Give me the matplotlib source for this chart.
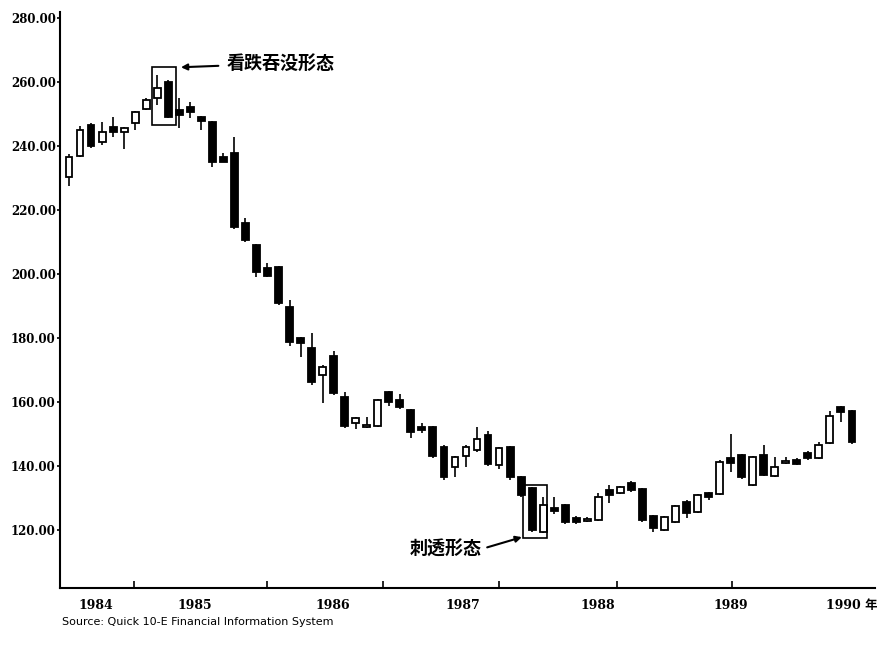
import numpy as np
import matplotlib
matplotlib.use("Agg")
import matplotlib.pyplot as plt
from matplotlib.patches import Rectangle

# Monthly candles, 1984 - 1990
opens = [230.3, 236.9, 246.6, 241.3, 246.0, 244.5, 247.2, 251.6, 255.0, 260.0,
         251.3, 252.2, 249.1, 247.5, 236.6, 237.8, 216.0, 209.1, 201.8, 202.2,
         189.7, 180.0, 176.9, 168.4, 174.4, 161.6, 153.4, 152.3, 152.5, 163.1,
         160.6, 157.5, 152.2, 152.2, 145.9, 139.7, 143.1, 145.0, 149.7, 140.3,
         145.9, 136.6, 133.1, 119.4, 126.9, 127.8, 123.8, 123.0, 123.1, 132.5,
         131.6, 134.7, 132.8, 124.4, 120.0, 122.5, 128.8, 125.6, 131.6, 131.3,
         142.5, 143.4, 134.1, 143.4, 136.9, 141.0, 141.9, 144.0, 142.5, 147.2,
         158.4, 157.2]
highs = [237.5, 246.3, 247.2, 247.5, 249.1, 246.0, 251.0, 255.0, 262.2, 260.6,
         255.0, 253.8, 249.5, 247.8, 237.8, 242.8, 217.5, 209.5, 203.4, 202.5,
         191.9, 180.5, 181.6, 171.5, 175.9, 163.1, 155.5, 155.3, 161.0, 163.4,
         162.5, 158.0, 153.4, 152.6, 146.5, 143.3, 146.5, 152.2, 150.9, 145.9,
         146.3, 137.0, 133.4, 130.3, 130.3, 128.2, 124.5, 124.2, 131.6, 134.0,
         133.8, 135.5, 133.2, 124.8, 124.5, 128.0, 129.3, 131.3, 132.0, 142.0,
         150.0, 143.8, 143.3, 146.6, 143.0, 142.9, 142.4, 144.6, 147.5, 157.2,
         158.9, 157.6]
lows = [227.5, 236.5, 239.5, 240.3, 242.8, 239.1, 245.0, 251.2, 252.8, 248.8,
        245.6, 248.8, 245.0, 233.4, 235.0, 214.0, 210.0, 199.1, 199.0, 190.3,
        177.5, 174.1, 165.3, 159.7, 162.3, 152.0, 151.6, 152.0, 152.2, 158.8,
        157.8, 148.8, 150.3, 142.5, 135.6, 136.6, 139.7, 144.5, 140.0, 139.1,
        135.8, 130.5, 119.5, 119.0, 125.0, 122.0, 121.8, 122.6, 122.8, 128.4,
        131.2, 132.0, 122.5, 119.4, 119.6, 122.2, 123.8, 125.2, 129.4, 131.0,
        138.1, 136.0, 133.8, 136.8, 136.5, 140.6, 140.2, 141.8, 142.2, 146.8,
        153.8, 146.9]
closes = [236.6, 245.0, 240.0, 244.4, 244.4, 245.8, 250.6, 254.4, 258.1, 249.1,
          249.7, 250.6, 248.0, 235.0, 235.2, 214.7, 210.6, 200.6, 199.5, 190.9,
          178.8, 178.4, 166.3, 170.9, 162.8, 152.5, 155.0, 152.8, 160.6, 160.0,
          158.5, 150.6, 151.3, 143.1, 136.6, 142.8, 145.9, 148.4, 140.6, 145.6,
          136.6, 130.9, 120.0, 127.8, 125.9, 122.5, 122.5, 123.6, 130.3, 130.9,
          133.4, 132.5, 123.1, 120.6, 124.1, 127.5, 125.3, 130.9, 130.3, 141.3,
          141.0, 136.6, 142.8, 137.2, 139.7, 141.5, 140.6, 142.5, 146.6, 155.6,
          156.9, 147.5]

y_ticks = [120, 140, 160, 180, 200, 220, 240, 260, 280]
year_labels = ["1984", "1985", "1986", "1987", "1988", "1989", "1990 年"]

cjk = ["Noto Sans CJK SC", "DejaVu Sans"]

x = np.arange(len(opens))
o = np.array(opens)
c = np.array(closes)
up = c >= o

fig = plt.figure(figsize=(8.78, 6.55), dpi=100)
ax = fig.add_axes([0.0683, 0.1023, 0.928, 0.879])

# wicks, then bodies on top
ax.vlines(x, lows, highs, color="black", linewidth=1.2, zorder=2)
body_bottom = np.minimum(o, c)
body_height = np.maximum(np.abs(c - o), 0.5)
ax.bar(x, body_height, bottom=body_bottom, width=0.62,
       color=np.where(up, "white", "black"), edgecolor="black",
       linewidth=1.3, zorder=3)

ax.set_xlim(-0.82, 73.07)
ax.set_ylim(101.9, 281.9)

ax.spines["top"].set_visible(False)
ax.spines["right"].set_visible(False)
ax.spines["left"].set_linewidth(1.5)
ax.spines["bottom"].set_linewidth(1.5)

ax.set_yticks(y_ticks)
ax.set_yticklabels([f"{v:.2f}" for v in y_ticks], fontfamily="DejaVu Serif",
                   fontweight="bold", fontsize=8.5)
ax.tick_params(axis="y", direction="out", length=2, width=1.2, pad=1)

ax.set_xticks([2.4, 11.4, 23.9, 35.7, 48.0, 60.0, 71.0])
ax.set_xticklabels(year_labels, fontweight="bold", fontsize=9,
                   family=["DejaVu Serif", "Noto Sans CJK SC"])
ax.tick_params(axis="x", length=0, pad=8)
ax.set_xticks([5.9, 17.95, 28.5, 39.0, 49.7, 60.1], minor=True)
ax.tick_params(axis="x", which="minor", direction="in", length=5, width=1.2)

# bearish engulfing box
ax.add_patch(Rectangle((7.5, 246.6), 2.2, 18.1, fill=False,
                       edgecolor="black", linewidth=1.2, zorder=4))
ax.annotate("看跌吞没形态", xy=(10.15, 264.7), xytext=(14.3, 265.9),
            fontsize=13, fontweight="bold", family=cjk, va="center", ha="left",
            arrowprops=dict(arrowstyle="-|>", color="black", lw=1.5,
                            shrinkA=4, shrinkB=0, mutation_scale=9))

# piercing pattern box
ax.add_patch(Rectangle((41.2, 117.5), 2.15, 16.6, fill=False,
                       edgecolor="black", linewidth=1.2, zorder=4))
ax.annotate("刺透形态", xy=(41.07, 117.8), xytext=(30.9, 114.1),
            fontsize=13, fontweight="bold", family=cjk, va="center", ha="left",
            arrowprops=dict(arrowstyle="-|>", color="black", lw=1.5,
                            shrinkA=2, shrinkB=0, mutation_scale=9,
                            relpos=(1.0, 0.5)))

fig.text(62 / 878, 1 - 622 / 655, "Source: Quick 10-E Financial Information System",
         fontsize=8, va="center", ha="left")

fig.savefig("out.png", dpi=100)
